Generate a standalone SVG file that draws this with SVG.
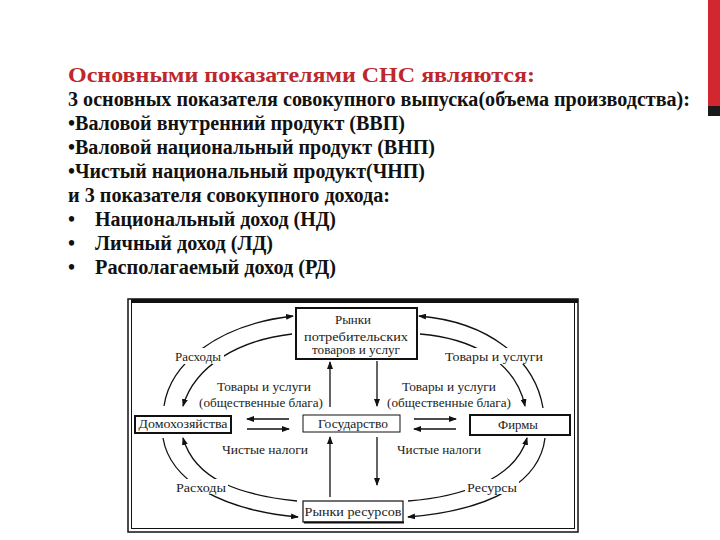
<svg xmlns="http://www.w3.org/2000/svg" width="720" height="540" viewBox="0 0 720 540">
<defs>
<marker id="ah" markerWidth="8" markerHeight="6" refX="7" refY="3" orient="auto" markerUnits="userSpaceOnUse">
<path d="M0,0 L8,3 L0,6 Z" fill="#111"/>
</marker>
<style>
.hd{font-family:"Liberation Serif","Times New Roman",serif;font-weight:bold;font-size:20px;fill:#111}
.tt{font-family:"Liberation Serif","Times New Roman",serif;font-weight:bold;font-size:21px;fill:#c0272d}
.lb{font-family:"Liberation Serif","Times New Roman",serif;font-size:12px;fill:#222;text-anchor:middle}
.bx{fill:#fff;stroke:#111}
.cn{fill:none;stroke:#111;stroke-width:1.3;marker-end:url(#ah)}
.wb{fill:#fff;stroke:none}
</style>
</defs>
<rect width="720" height="540" fill="#fff"/>
<rect x="708" y="0" width="12" height="106" fill="#d2272e"/>
<rect x="708" y="106" width="12" height="10" fill="#1a1a1a"/>

<g id="heading">
<text class="tt" x="68" y="82" textLength="467" lengthAdjust="spacingAndGlyphs">Основными показателями СНС являются:</text>
<text class="hd" x="68" y="106" textLength="622" lengthAdjust="spacingAndGlyphs">3 основных показателя совокупного выпуска(объема производства):</text>
<text class="hd" x="68" y="130" textLength="337" lengthAdjust="spacingAndGlyphs">•Валовой внутренний продукт (ВВП)</text>
<text class="hd" x="68" y="154" textLength="367" lengthAdjust="spacingAndGlyphs">•Валовой национальный продукт (ВНП)</text>
<text class="hd" x="68" y="178" textLength="357" lengthAdjust="spacingAndGlyphs">•Чистый национальный продукт(ЧНП)</text>
<text class="hd" x="68" y="202" textLength="322" lengthAdjust="spacingAndGlyphs">и 3 показателя совокупного дохода:</text>
<text class="hd" x="68" y="226">•</text>
<text class="hd" x="95" y="226" textLength="241" lengthAdjust="spacingAndGlyphs">Национальный доход (НД)</text>
<text class="hd" x="68" y="250">•</text>
<text class="hd" x="95" y="250" textLength="178" lengthAdjust="spacingAndGlyphs">Личный доход (ЛД)</text>
<text class="hd" x="68" y="274">•</text>
<text class="hd" x="95" y="274" textLength="241" lengthAdjust="spacingAndGlyphs">Располагаемый доход (РД)</text>
</g>

<g id="frame">
<rect x="128" y="299" width="450" height="233" fill="none" stroke="#111" stroke-width="1.5"/>
<rect x="131.5" y="302" width="443" height="226.5" fill="none" stroke="#111" stroke-width="1"/>
<rect x="131" y="299" width="447" height="4" fill="#111"/>
</g>

<g id="connectors">
<path class="cn" d="M164,406 C170,365 215,325 293,316"/>
<path class="cn" d="M292,334 C240,340 195,365 183,406"/>
<path class="cn" d="M543,408 C535,360 490,322 419,316"/>
<path class="cn" d="M420,334 C470,338 515,360 525,406"/>
<path class="cn" d="M163,438 C170,480 220,510 298,517"/>
<path class="cn" d="M297,501 C240,495 195,480 183,438"/>
<path class="cn" d="M545,438 C540,480 495,510 408,517"/>
<path class="cn" d="M408,501 C460,497 515,480 527,438"/>
<path class="cn" d="M289,419 L247,419"/>
<path class="cn" d="M247,429 L289,429"/>
<path class="cn" d="M414,419 L456,419"/>
<path class="cn" d="M456,429 L414,429"/>
<path class="cn" d="M330,407 L330,362"/>
<path class="cn" d="M377,361 L377,406"/>
<path class="cn" d="M330,497 L330,437"/>
<path class="cn" d="M377,437 L377,485"/>
</g>

<g id="labels">
<rect class="wb" x="172" y="348" width="52" height="16"/>
<text class="lb" x="198" y="361" textLength="46" lengthAdjust="spacingAndGlyphs">Расходы</text>
<rect class="wb" x="444" y="348" width="102" height="16"/>
<text class="lb" x="494" y="361" textLength="98" lengthAdjust="spacingAndGlyphs">Товары и услуги</text>
<text class="lb" x="264" y="391" textLength="94" lengthAdjust="spacingAndGlyphs">Товары и услуги</text>
<text class="lb" x="261" y="407" textLength="124" lengthAdjust="spacingAndGlyphs">(общественные блага)</text>
<text class="lb" x="449" y="391" textLength="94" lengthAdjust="spacingAndGlyphs">Товары и услуги</text>
<text class="lb" x="449" y="407" textLength="124" lengthAdjust="spacingAndGlyphs">(общественные блага)</text>
<text class="lb" x="265" y="454" textLength="86" lengthAdjust="spacingAndGlyphs">Чистые налоги</text>
<text class="lb" x="439" y="454" textLength="84" lengthAdjust="spacingAndGlyphs">Чистые налоги</text>
<rect class="wb" x="174" y="479" width="54" height="15"/>
<text class="lb" x="201" y="492" textLength="50" lengthAdjust="spacingAndGlyphs">Расходы</text>
<rect class="wb" x="465" y="479" width="54" height="15"/>
<text class="lb" x="492" y="492" textLength="50" lengthAdjust="spacingAndGlyphs">Ресурсы</text>
</g>

<g id="node-consumer-markets">
<rect class="bx" x="296" y="308" width="121" height="51" stroke-width="2"/>
<text class="lb" x="353" y="324" textLength="36" lengthAdjust="spacingAndGlyphs">Рынки</text>
<text class="lb" x="356" y="341" textLength="104" lengthAdjust="spacingAndGlyphs">потребительских</text>
<text class="lb" x="356" y="354" textLength="88" lengthAdjust="spacingAndGlyphs">товаров и услуг</text>
</g>
<g id="node-households">
<rect class="bx" x="135" y="416" width="96" height="17" stroke-width="2"/>
<text class="lb" x="183" y="428" textLength="89" lengthAdjust="spacingAndGlyphs">Домохозяйства</text>
</g>
<g id="node-state">
<rect class="bx" x="303" y="415" width="97" height="17" stroke-width="1"/>
<text class="lb" x="353" y="428" textLength="70" lengthAdjust="spacingAndGlyphs">Государство</text>
</g>
<g id="node-firms">
<rect class="bx" x="470" y="415" width="100" height="20" stroke-width="2"/>
<text class="lb" x="518" y="429" textLength="40" lengthAdjust="spacingAndGlyphs">Фирмы</text>
</g>
<g id="node-resource-markets">
<rect class="bx" x="303" y="501" width="100" height="21" stroke-width="1.2"/>
<line x1="304" y1="522.5" x2="404" y2="522.5" stroke="#111" stroke-width="2"/>
<text class="lb" x="353" y="516" textLength="97" lengthAdjust="spacingAndGlyphs">Рынки ресурсов</text>
</g>
</svg>
